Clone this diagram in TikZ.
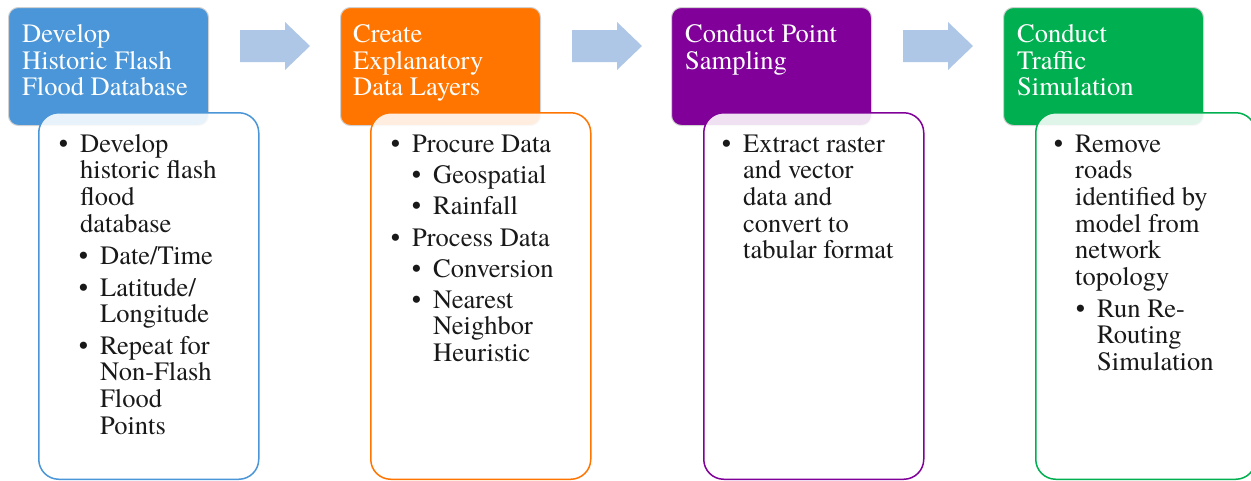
\documentclass[tikz,border=0pt]{standalone}
\usepackage{fontspec}
\setmainfont{TeX Gyre Termes}
\definecolor{cblue}{HTML}{4A96D8}
\definecolor{corange}{HTML}{FF7500}
\definecolor{cpurple}{HTML}{800099}
\definecolor{cgreen}{HTML}{00B050}
\definecolor{carrow}{HTML}{AFC7E7}
\newcommand\bl{\llap{\textbullet\hspace{12pt}}}
\newcommand\lns[1]{\begin{tabular}[t]{@{}l@{}}#1\end{tabular}}
\begin{document}
\begin{tikzpicture}[x=1pt,y=-1pt,
 hdr/.style={draw=black!18, line width=1pt, rounded corners=10pt, anchor=north west,
   minimum width=200pt, minimum height=118pt, inner sep=0pt},
 body/.style={draw=#1, line width=1.5pt, fill=white, fill opacity=0.88, rounded corners=20pt,
   anchor=north west, minimum width=220pt, minimum height=366.5pt, inner sep=0pt},
 htxt/.style={anchor=base west, inner sep=0pt, text=white, font=\fontsize{26.5}{26.7}\selectfont},
 btxt/.style={anchor=base west, inner sep=0pt, text=black!90, font=\fontsize{26.5}{26.7}\selectfont},
 flow/.style={fill=carrow, draw=none}]
\useasboundingbox (0,0) rectangle (1251,480);
\clip (0,0) rectangle (1251,480);
\fill[white] (0,0) rectangle (1251,480);
% block arrows
\foreach \dx in {0,332,663}{
  \fill[flow, shift={(\dx,0)}] (240,30) -- (285,30) -- (285,22) -- (310,46) -- (285,70) -- (285,62) -- (240,62) -- cycle;
}
% headers
\node[hdr, fill=cblue] (h1) at (8,7) {};
\node[hdr, fill=corange] (h2) at (340,7) {};
\node[hdr, fill=cpurple] (h3) at (671,7) {};
\node[hdr, fill=cgreen] (h4) at (1003,7) {};
% bodies
\node[body=cblue] (b1) at (38,112) {};
\node[body=corange] (b2) at (370,112) {};
\node[body=cpurple] (b3) at (703,112) {};
\node[body=cgreen] (b4) at (1035,112) {};
% header texts
\node[htxt] (t1) at (22,42.5) {\lns{Develop\\Historic Flash\\Flood Database}};
\node[htxt] (t2) at (353,42.5) {\lns{Create\\Explanatory\\Data Layers}};
\node[htxt] (t3) at (685,42.5) {\lns{Conduct Point\\Sampling}};
\node[htxt] (t4) at (1017,42.5) {\lns{Conduct\\Traffic\\Simulation}};
% body 1
\node[btxt] (a1) at (80,152) {\bl\lns{Develop\\historic flash\\flood\\database}};
\node[btxt] (a2) at (100,264) {\bl\lns{Date/Time}};
\node[btxt] (a3) at (100,296) {\bl\lns{Latitude/\\Longitude}};
\node[btxt] (a4) at (100,354) {\bl\lns{Repeat for\\Non-Flash\\Flood\\Points}};
% body 2
\node[btxt] (c1) at (412,152) {\bl\lns{Procure Data}};
\node[btxt] (c2) at (433,183) {\bl\lns{Geospatial}};
\node[btxt] (c3) at (433,214) {\bl\lns{Rainfall}};
\node[btxt] (c4) at (412,246) {\bl\lns{Process Data}};
\node[btxt] (c5) at (433,277) {\bl\lns{Conversion}};
\node[btxt] (c6) at (433,308) {\bl\lns{Nearest\\Neighbor\\Heuristic}};
% body 3
\node[btxt] (d1) at (743,152) {\bl\lns{Extract raster\\and vector\\data and\\convert to\\tabular format}};
% body 4
\node[btxt] (e1) at (1075,152) {\bl\lns{Remove\\roads\\identified by\\model from\\network\\topology}};
\node[btxt] (e2) at (1097,317) {\bl\lns{Run Re-\\Routing\\Simulation}};
\end{tikzpicture}
\end{document}
